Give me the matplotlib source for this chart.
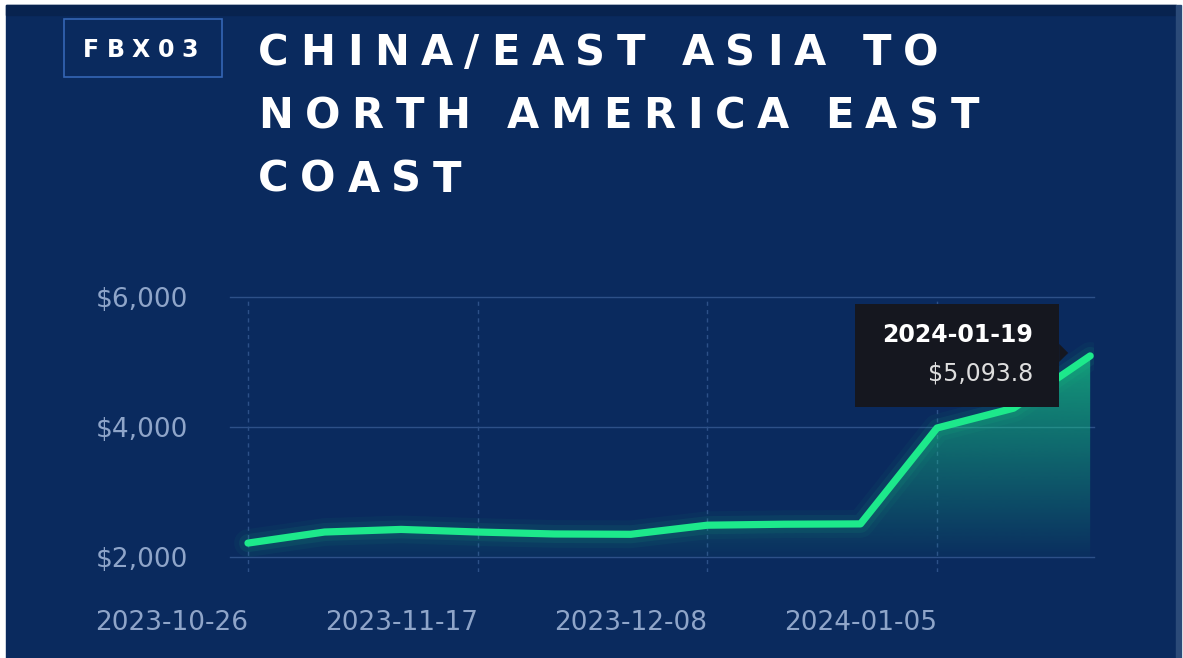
import matplotlib
matplotlib.use("Agg")
import matplotlib.pyplot as plt
import numpy as np
from matplotlib.patches import Rectangle, Polygon
from matplotlib.transforms import IdentityTransform, Affine2D, ScaledTranslation
from matplotlib.colors import to_rgb

# data (weekly FBX03 rate)
dates = ["2023-10-26", "2023-11-03", "2023-11-10", "2023-11-17", "2023-11-24",
         "2023-12-01", "2023-12-08", "2023-12-15", "2023-12-22", "2024-01-05",
         "2024-01-12", "2024-01-19"]
rates = [2215, 2385, 2425, 2385, 2355, 2350, 2490, 2505, 2510, 3985, 4290, 5093.8]
tick_idx = [0, 3, 6, 9]
y_ticks = [2000, 4000, 6000]
y_tick_labels = ["$2,000", "$4,000", "$6,000"]
route_code = "FBX03"
title_lines = ["CHINA/EAST ASIA TO", "NORTH AMERICA EAST", "COAST"]

NAVY = "#0a2a5e"
GREEN = "#1de98b"
TICK_COL = "#8fa5c9"
GRID_COL = "#2d5088"

W, H = 1183, 658
fig = plt.figure(figsize=(W / 100, H / 100), dpi=100, facecolor="white")
pix = IdentityTransform()

# background panel
fig.add_artist(Rectangle((6, 0), 1170, 653, transform=pix, color=NAVY, zorder=0))
fig.add_artist(Rectangle((6, 643), 1170, 10, transform=pix, color="#08234f", zorder=0))
fig.add_artist(Rectangle((1176, 0), 5, 653, transform=pix, color="#2b4a78", zorder=0))

renderer = fig.canvas.get_renderer()


def char_widths(s, **kw):
    ws = []
    for ch in s:
        if ch == " ":
            continue
        t = fig.text(0, 0, ch, transform=pix, **kw)
        ws.append(t.get_window_extent(renderer).width)
        t.remove()
    return ws


def spaced_text(x0, y0, s, gap, word_gap, **kw):
    # draw characters one by one so the letter spacing can be widened
    x = x0
    prev_space = False
    first = True
    for ch in s:
        if ch == " ":
            prev_space = True
            continue
        if not first:
            x += word_gap if prev_space else gap
        t = fig.text(x, y0, ch, transform=pix, ha="left", va="baseline", **kw)
        x += t.get_window_extent(renderer).width
        prev_space = False
        first = False


def fit_gap(s, target_w, word_gap, **kw):
    ws = char_widths(s, **kw)
    n_sp = s.count(" ")
    return (target_w - sum(ws) - word_gap * n_sp) / (len(ws) - 1 - n_sp)


# title, letter gap taken from the first line's width
title_kw = dict(fontsize=30, fontweight="bold", color="white", family="DejaVu Sans")
g = fit_gap(title_lines[0], 680, 36, **title_kw)
for i, line in enumerate(title_lines):
    spaced_text(258, 593 - 63.5 * i, line, g, 36, **title_kw)

# route code box
fig.add_artist(Rectangle((64, 581), 158, 58, transform=pix, facecolor="none",
                         edgecolor="#3566b5", linewidth=1.2, zorder=2))
code_kw = dict(fontsize=17, fontweight="bold", color="white", family="DejaVu Sans")
spaced_text(83, 601, route_code, fit_gap(route_code, 115, 0, **code_kw), 0, **code_kw)

# chart
ax = fig.add_axes([230 / W, 86 / H, 864 / W, 275 / H])
ax.set_facecolor("none")
x = np.arange(len(rates))

for yt in y_ticks:
    ax.axhline(yt, color=GRID_COL, lw=1, clip_on=False, zorder=1)
for ti in tick_idx:
    ax.axvline(ti, color=GRID_COL, lw=1, dashes=(3, 3), zorder=1)

# gradient under the line
poly = ax.fill_between(x, rates, y_ticks[0], color="none", lw=0)
grad = np.zeros((256, 1, 4))
grad[..., :3] = to_rgb("#19d88a")
grad[:, 0, 3] = np.linspace(0.65, 0.03, 256)
im = ax.imshow(grad, extent=[x[0], x[-1], y_ticks[0], max(rates)], aspect="auto",
               origin="upper", zorder=2, interpolation="bilinear")
im.set_clip_path(poly.get_paths()[0], transform=ax.transData)

# glow + line
for lw, a in [(20, 0.04), (13, 0.07)]:
    ax.plot(x, rates, color=GREEN, lw=lw, alpha=a, solid_capstyle="round",
            solid_joinstyle="round", zorder=3)
ax.plot(x, rates, color=GREEN, lw=5.2, solid_capstyle="round",
        solid_joinstyle="round", zorder=4)

ax.set_xticks(tick_idx)
ax.set_xticklabels([dates[i] for i in tick_idx], ha="right")
ax.set_yticks(y_ticks)
ax.set_yticklabels(y_tick_labels)
ax.tick_params(axis="x", length=0, pad=27, labelsize=19, labelcolor=TICK_COL)
ax.tick_params(axis="y", length=0, pad=30, labelsize=19, labelcolor=TICK_COL)
for sp in ax.spines.values():
    sp.set_visible(False)

# tooltip at the last point
tip = Affine2D() + ScaledTranslation(x[-1], rates[-1], ax.transData)
ax.add_patch(Rectangle((-235, -51), 204, 103, transform=tip, facecolor="#15171f",
                       edgecolor="none", clip_on=False, zorder=10))
ax.add_patch(Polygon([(-31, 12), (-22, 3), (-31, -6)], closed=True, transform=tip,
                     facecolor="#15171f", edgecolor="none", clip_on=False, zorder=10))
ax.text(-57, 14, dates[-1], transform=tip, ha="right", va="baseline", fontsize=17,
        fontweight="bold", color="white", zorder=11)
ax.text(-57, -25, f"${rates[-1]:,.1f}", transform=tip, ha="right", va="baseline",
        fontsize=17, color="#dedede", zorder=11)

ax.set_xlim(-0.235, 11.05)
ax.set_ylim(1770, 6000)

fig.savefig("out.png", dpi=100, facecolor="white")
